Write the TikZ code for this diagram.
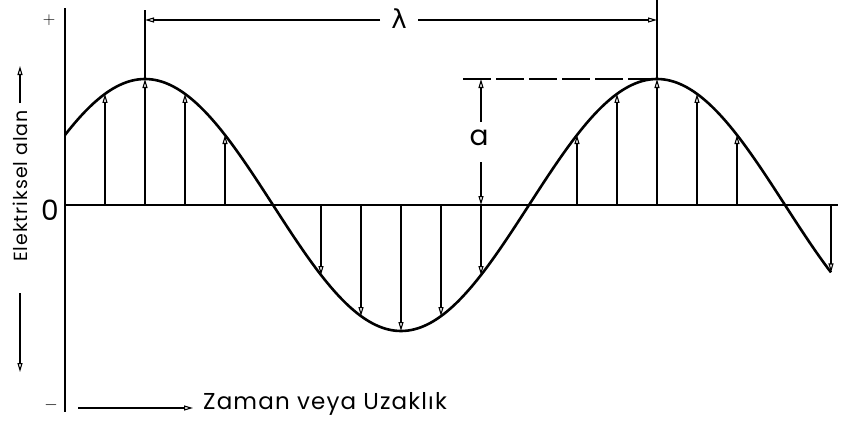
\documentclass[tikz,border=0pt]{standalone}
\usepackage{fontspec}
\setmainfont{Poppins}
\newfontfamily\greekfont{DejaVu Sans}
\newfontfamily\widefont[LetterSpace=5]{Poppins}
\usetikzlibrary{arrows.meta}
\tikzset{
  curve/.style={line width=2.6pt, line join=round},
  axisline/.style={line width=1.6pt},
  vec/.style={line width=1.3pt, -{Triangle[open,length=9pt,width=5pt,line width=1.1pt]}},
  dimarrow/.style={line width=1.3pt, -{Triangle[open,length=9pt,width=5pt,line width=1.1pt]}},
  extline/.style={line width=1.3pt},
  lbl/.style={inner sep=0pt, text=black}
}
\begin{document}
\begin{tikzpicture}[x=1pt,y=-1pt]
\useasboundingbox (0,0) rectangle (855,447);
% axes
\coordinate (ytop) at (65,8);
\coordinate (ybot) at (65,412);
\coordinate (x0) at (65,205);
\coordinate (xend) at (838,205);
\draw[axisline] (ytop) -- (ybot);
\draw[axisline] (x0) -- (xend);
% field vectors
\foreach \x in {105,145,185,225, 321,361,401,441,481, 577,617,657,697,737,831}{
  \draw[vec] (\x,205) -- (\x,{205-126*cos((\x-145)/512*360)});
}
% sine curve
\draw[curve] plot[domain=65:831, samples=240, smooth] (\x,{205-126*cos((\x-145)/512*360)});
% wavelength dimension
\coordinate (lamL) at (145,20);
\coordinate (lamR) at (657,20);
\draw[extline] (145,10) -- (145,80);
\draw[extline] (657,0) -- (657,79);
\node[lbl, font=\greekfont\fontsize{26}{26}\selectfont] (lam) at (399,19) {λ};
\draw[dimarrow] (380,20) -- (lamL);
\draw[dimarrow] (418,20) -- (lamR);
% amplitude
\coordinate (dashL) at (463,79);
\coordinate (dashR) at (657,79);
\draw[line width=1.3pt, dash pattern=on 28pt off 5pt] (dashL) -- (dashR);
\node[lbl, font=\fontsize{28}{28}\selectfont] (amp) at (479,138) {a};
\draw[dimarrow] (481,122) -- (481,79);
\draw[dimarrow] (481,162) -- (481,205);
% axis labels
\node[lbl, font=\fontsize{28}{28}\selectfont] (zero) at (50,210) {0};
\node[lbl, font=\fontsize{16}{16}\selectfont] (plus) at (49,20) {$+$};
\node[lbl, font=\fontsize{16}{16}\selectfont] (minus) at (51,405) {$-$};
\node[lbl, rotate=90, font=\widefont\fontsize{19}{19}\selectfont] (ylab) at (20,186) {Elektriksel alan};
\draw[dimarrow] (20,103) -- (20,66);
\draw[dimarrow] (20,293) -- (20,372);
\node[lbl, anchor=west, font=\widefont\fontsize{23}{23}\selectfont] (xlab) at (203,404) {Zaman veya Uzaklık};
\draw[dimarrow] (78,408) -- (193,408);
\end{tikzpicture}
\end{document}
